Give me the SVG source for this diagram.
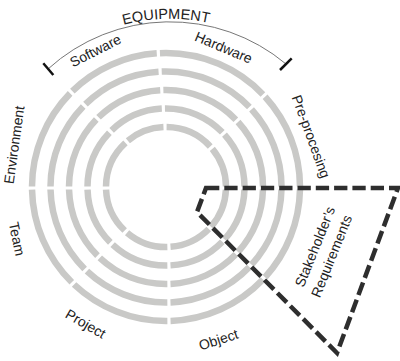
<svg xmlns="http://www.w3.org/2000/svg" width="400" height="361" viewBox="0 0 400 361">
<style>
.ring{fill:none;stroke:#c9c9c7;stroke-width:6.5}
.lbl{font-family:"Liberation Sans",Arial,sans-serif;font-size:14px;fill:#222;text-anchor:middle}
.tick{stroke:#111;stroke-width:2.5}
.dash{fill:none;stroke:#2e2e2e;stroke-width:4.5;stroke-dasharray:13.3 5;stroke-linejoin:miter}
</style>
<defs>
<path id="eqText" d="M48 66A181 181 0 0 1 286 61" fill="none"/>
</defs>
<rect width="400" height="361" fill="#fff"/>
<g id="rings">
<path class="ring" pathLength="360" d="M300 187A134 134 0 1 1 32 187A134 134 0 1 1 300 187" stroke-dasharray="0 1.112 41.204 1.368 44.349 1.368 43.915 1.368 44.204 1.368 44.06 1.368 40.342 1.368 48.922 1.368 42.06 0.256"/>
<path class="ring" pathLength="360" d="M281.5 187A115.5 115.5 0 1 1 50.5 187A115.5 115.5 0 1 1 281.5 187" stroke-dasharray="0 1.29 40.916 1.588 43.924 1.588 43.9 1.588 43.916 1.588 43.908 1.588 40.434 1.588 48.39 1.588 41.908 0.298"/>
<path class="ring" pathLength="360" d="M263 187A97 97 0 1 1 69 187A97 97 0 1 1 263 187" stroke-dasharray="0 1.536 40.519 1.89 43.338 1.89 43.882 1.89 43.519 1.89 43.701 1.89 40.569 1.89 47.651 1.89 41.701 0.354"/>
<path class="ring" pathLength="360" d="M244.5 187A78.5 78.5 0 1 1 87.5 187A78.5 78.5 0 1 1 244.5 187" stroke-dasharray="0 1.898 39.934 2.336 42.474 2.336 43.854 2.336 42.934 2.336 43.394 2.336 40.693 2.336 46.635 2.336 41.394 0.438"/>
<path class="ring" pathLength="360" d="M226 187A60 60 0 1 1 106 187A60 60 0 1 1 226 187" stroke-dasharray="0 2.483 38.989 3.056 41.078 3.056 41.81 3.056 43.989 3.056 46.899 3.056 36.989 3.056 46.899 3.056 38.899 0.573"/>
</g>
<g id="equipment">
<path d="M48 69A181 181 0 0 1 286 64" fill="none" stroke="#777" stroke-width="1"/>
<line class="tick" x1="43.3" y1="63.3" x2="53.3" y2="75"/>
<line class="tick" x1="280" y1="70" x2="291.7" y2="58.3"/>
<text class="lbl" style="font-size:14.5px"><textPath href="#eqText" startOffset="50%">EQUIPMENT</textPath></text>
</g>
<g id="software"><text class="lbl" transform="translate(97.7 55) rotate(-27)">Software</text></g>
<g id="hardware"><text class="lbl" transform="translate(221.7 52) rotate(23)">Hardware</text></g>
<g id="pre-processing"><text class="lbl" transform="translate(306.5 138.2) rotate(70)">Pre-procesing</text></g>
<g id="environment"><text class="lbl" transform="translate(19 145.5) rotate(-82)">Environment</text></g>
<g id="team"><text class="lbl" transform="translate(12.2 240) rotate(78)">Team</text></g>
<g id="project"><text class="lbl" transform="translate(83.2 328) rotate(30)">Project</text></g>
<g id="object"><text class="lbl" transform="translate(220 344.3) rotate(-18)">Object</text></g>
<g id="connectors">
<path class="dash" d="M206 188H398L337 353L197 212Z"/>
</g>
<g id="stakeholders-requirements">
<text class="lbl" transform="translate(319.5 248.5) rotate(-68)">Stakeholder’s</text>
<text class="lbl" transform="translate(336 258) rotate(-68)">Requirements</text>
</g>
</svg>
